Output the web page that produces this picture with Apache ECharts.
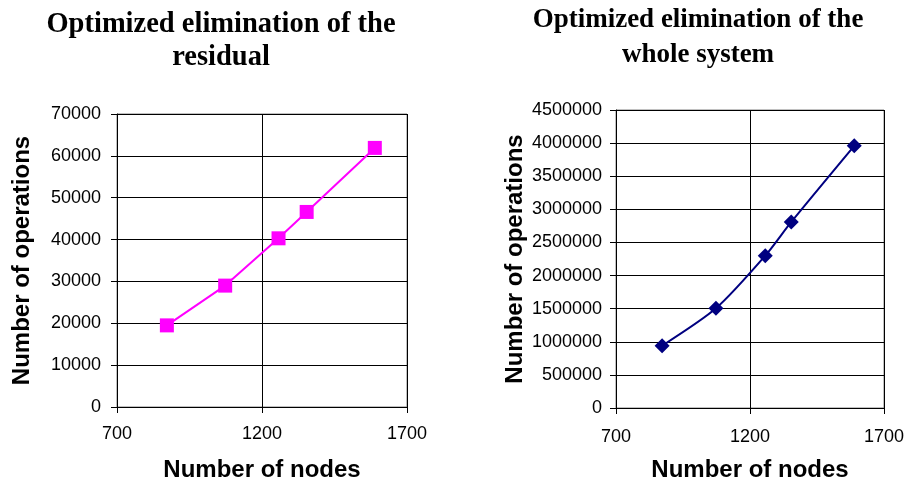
<!DOCTYPE html>
<html><head><meta charset="utf-8">
<script src="https://cdn.jsdelivr.net/npm/echarts@6/dist/echarts.min.js"></script>
<style>html,body{margin:0;padding:0;background:#fff}#c{width:905px;height:486px}</style>
</head><body><div id="c"></div>
<script>
const nodes = [872, 1073, 1257, 1354, 1589];
const residualOps = [19500, 29000, 40300, 46600, 61900];
const wholeOps = [940000, 1505000, 2300000, 2810000, 3960000];
const xTicks = [700, 1200, 1700];
const titles = ['Optimized elimination of the\nresidual', 'Optimized elimination of the\nwhole system'];
const xName = 'Number of nodes';
const yName = 'Number of operations';

const chart = echarts.init(document.getElementById('c'));
const sans = 'Liberation Sans, Arial, sans-serif';
const serif = 'Liberation Serif, Times New Roman, serif';
function xAxis(gi, gap, margin){
  return {type:'value', gridIndex:gi, min:xTicks[0], max:xTicks[xTicks.length-1], interval:xTicks[1]-xTicks[0],
    name:xName, nameLocation:'middle', nameGap:gap,
    nameTextStyle:{fontFamily:sans, fontWeight:'bold', fontSize:24, color:'#000'},
    axisLine:{show:true, onZero:false, lineStyle:{color:'#000', width:1}},
    axisTick:{show:true, inside:false, length:6, lineStyle:{color:'#000'}},
    axisLabel:{color:'#000', fontFamily:sans, fontSize:18, margin:margin, formatter:v=>String(v)},
    splitLine:{show:true, lineStyle:{color:'#000', width:1}}};
}
function yAxis(gi, max, interval, gap, margin){
  return {type:'value', gridIndex:gi, min:0, max:max, interval:interval,
    name:yName, nameLocation:'middle', nameGap:gap,
    nameTextStyle:{fontFamily:sans, fontWeight:'bold', fontSize:24, color:'#000'},
    axisLine:{show:true, lineStyle:{color:'#000', width:1}},
    axisTick:{show:true, inside:false, length:6, lineStyle:{color:'#000'}},
    axisLabel:{color:'#000', fontFamily:sans, fontSize:18, margin:margin, formatter:v=>String(v)},
    splitLine:{show:true, lineStyle:{color:'#000', width:1}}};
}
chart.setOption({
  animation:false,
  title:[
    {text:titles[0], left:216, top:3, textAlign:'center',
     textStyle:{fontFamily:serif, fontWeight:'bold', fontSize:28.5, lineHeight:33, color:'#000'}},
    {text:titles[1], left:693, top:-2, textAlign:'center',
     textStyle:{fontFamily:serif, fontWeight:'bold', fontSize:27, lineHeight:35, color:'#000'}}
  ],
  grid:[
    {left:117, top:114, width:290, height:293, outerBoundsMode:'none', containLabel:false, show:true, borderColor:'#808080', borderWidth:1, backgroundColor:'#fff'},
    {left:616, top:110, width:268, height:298, outerBoundsMode:'none', containLabel:false, show:true, borderColor:'#808080', borderWidth:1, backgroundColor:'#fff'}
  ],
  xAxis:[xAxis(0, 51, 18), xAxis(1, 50, 20)],
  yAxis:[yAxis(0, 70000, 10000, 83, 16), yAxis(1, 4500000, 500000, 89, 14)],
  series:[
    {type:'line', xAxisIndex:0, yAxisIndex:0, data:nodes.map((n,i)=>[n, residualOps[i]]),
     symbol:'rect', symbolSize:14, lineStyle:{color:'#FF00FF', width:2}, itemStyle:{color:'#FF00FF'}},
    {type:'line', xAxisIndex:1, yAxisIndex:1, data:nodes.map((n,i)=>[n, wholeOps[i]]),
     smooth:0.25, symbol:'diamond', symbolSize:15, lineStyle:{color:'#000080', width:2}, itemStyle:{color:'#000080'}}
  ]
});
</script></body></html>
